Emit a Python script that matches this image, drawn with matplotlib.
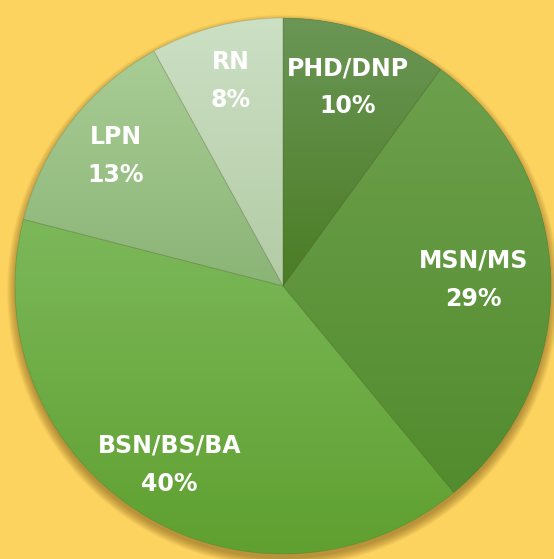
import numpy as np
import matplotlib
matplotlib.use('Agg')
import matplotlib.pyplot as plt
from matplotlib.colors import to_rgb
from matplotlib.patches import Circle, Wedge

labels = ['PHD/DNP', 'MSN/MS', 'BSN/BS/BA', 'LPN', 'RN']
values = [10, 29, 40, 13, 8]
pct_labels = ['10%', '29%', '40%', '13%', '8%']

top_colors = ['#6B9656', '#6DA04C', '#7CB85A', '#A9CD95', '#CCE0C4']
bottom_colors = ['#4A7D24', '#528C2E', '#5FA030', '#8BB477', '#B3CBA5']
label_dist = [0.78, 0.71, 0.79, 0.79, 0.79]

BG = '#FDD35F'
W, H = 554, 559
R_px, cx, cy = 268, 283, 286

fig = plt.figure(figsize=(W / 100, H / 100), dpi=100, facecolor=BG)
ax = fig.add_axes([0, 0, 1, 1])
ax.set_facecolor(BG)

# soft shadow
for i in range(14):
    r = 0.995 + 0.0025 * (i + 1)
    ax.add_patch(Circle((0.0, -0.018), r, facecolor='#6b4a10', alpha=0.04, lw=0, zorder=0.5))

mid_cols = [tuple((np.array(to_rgb(t)) + np.array(to_rgb(b))) / 2) for t, b in zip(top_colors, bottom_colors)]
wedges, _ = ax.pie(values, startangle=90, counterclock=False, radius=1, center=(0, 0),
                   colors=mid_cols, wedgeprops=dict(linewidth=0))

for i, w in enumerate(wedges):
    w.set_zorder(1)
    th = np.radians(np.linspace(w.theta1, w.theta2, 200))
    xs = np.concatenate([[0], w.r * np.cos(th)])
    ys = np.concatenate([[0], w.r * np.sin(th)])
    t = np.linspace(0, 1, 256)[:, None]
    c1 = np.array(to_rgb(top_colors[i]))
    c2 = np.array(to_rgb(bottom_colors[i]))
    img = (c1[None, :] * (1 - t) + c2[None, :] * t)[:, None, :]
    im = ax.imshow(img, extent=[xs.min(), xs.max(), ys.min(), ys.max()], origin='upper',
                   aspect='auto', zorder=1.5, interpolation='bilinear')
    im.set_clip_path(w)
    ax.add_patch(Wedge(w.center, w.r, w.theta1, w.theta2, fill=False,
                       edgecolor=(0.25, 0.3, 0.15, 0.18), linewidth=0.6, zorder=2))
    ang = np.radians((w.theta1 + w.theta2) / 2)
    d = label_dist[i]
    ax.text(d * np.cos(ang), d * np.sin(ang), f'{labels[i]}\n{pct_labels[i]}',
            ha='center', va='center', color='white', fontsize=17, fontweight='bold',
            linespacing=1.75, family='DejaVu Sans', zorder=3)

ax.set_aspect('auto')
ax.set_xlim(-cx / R_px, (W - cx) / R_px)
ax.set_ylim(-(H - cy) / R_px, cy / R_px)
ax.axis('off')

fig.savefig('out.png', dpi=100, facecolor=BG)
